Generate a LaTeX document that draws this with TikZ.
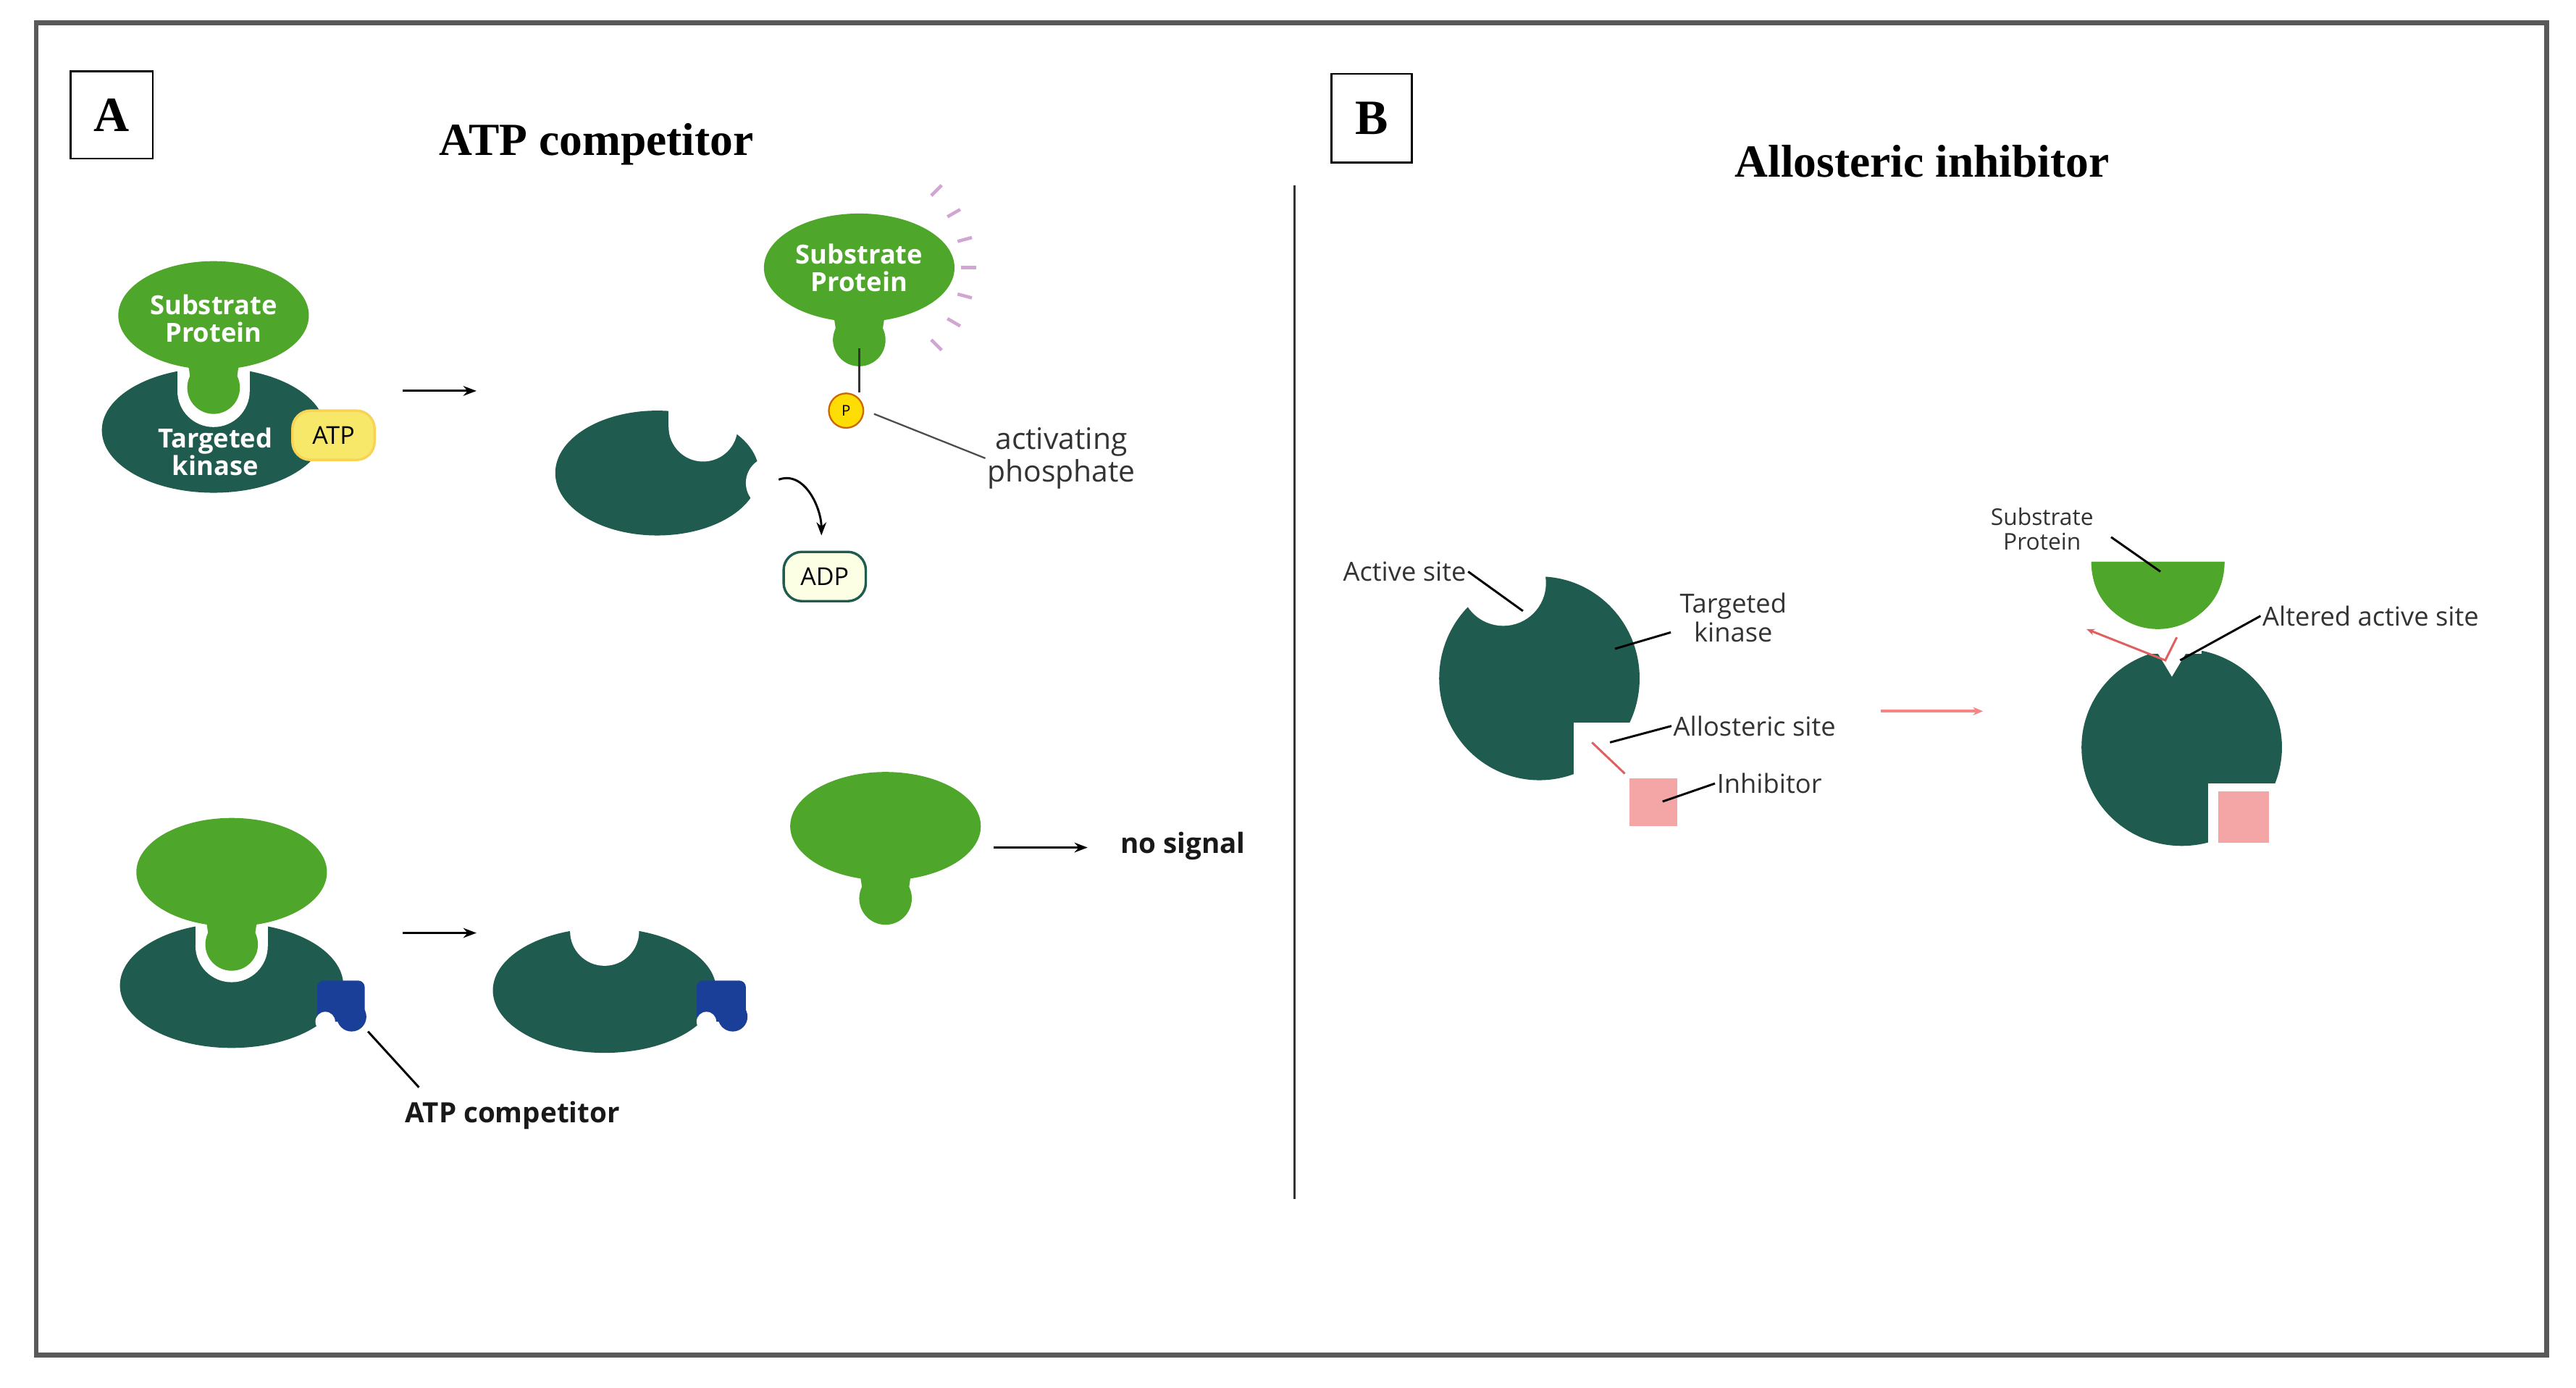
\documentclass[tikz,border=0pt]{standalone}
\usepackage{fontspec}
\setmainfont{Liberation Serif}
\newfontfamily\lab{Open Sans}
\usetikzlibrary{arrows.meta}
\definecolor{kin}{HTML}{1F5C4F}
\definecolor{sub}{HTML}{4EA72A}
\definecolor{pinkc}{HTML}{F4A6A6}
\definecolor{redl}{HTML}{E06060}
\definecolor{atpc}{HTML}{F7E86A}
\definecolor{blu}{HTML}{1A3F99}
\tikzset{
 title/.style={font=\fontsize{28}{30}\selectfont\bfseries},
 lbl/.style={font=\lab\fontsize{16}{18}\selectfont, text=black!80, align=center, inner sep=1pt},
 wlbl/.style={font=\lab\fontsize{16}{17}\selectfont\bfseries, text=white, align=center, inner sep=0pt},
 blbl/.style={font=\lab\fontsize{17}{19}\selectfont\bfseries, text=black!90, inner sep=1pt},
 lead/.style={black, line width=1.3pt},
 arr/.style={black, line width=1.3pt, -{Stealth[length=8pt,width=6pt]}},
 pill/.style={rounded corners=11pt, minimum width=50pt, minimum height=30pt, line width=1.5pt, font=\lab\fontsize{15}{16}\selectfont, inner sep=0pt},
}
\newcommand\substr[2]{% center x,y
 \fill[sub] (#1,#2) ellipse [x radius=58, y radius=33];
 \fill[sub] (#1-14,#2) rectangle (#1+14,#2+45);
 \fill[sub] (#1,#2+44) circle (16);
 \fill[sub] (#1-30,#2+18) .. controls (#1-16,#2+24) .. (#1-14,#2+40) -- (#1+14,#2+40) .. controls (#1+16,#2+24) .. (#1+30,#2+18) -- cycle;}
\begin{document}
\begin{tikzpicture}[x=1pt,y=-1pt]
\useasboundingbox (0,0) rectangle (1568,845);
\fill[white] (0,0) rectangle (1568,845);
\draw[gray!70!black, line width=3pt] (22,14) rectangle (1550,825);
% headers
\node[draw, line width=1.2pt, minimum width=50pt, minimum height=53pt, title, font=\fontsize{30}{30}\selectfont\bfseries] (boxA) at (68,70) {A};
\node[title] (tA) at (363,88) {ATP competitor};
\node[draw, line width=1.2pt, minimum width=49pt, minimum height=54pt, font=\fontsize{30}{30}\selectfont\bfseries] (boxB) at (835,72) {B};
\node[title] (tB) at (1170,98) {Allosteric inhibitor};
\coordinate (d1) at (788,113); \coordinate (d2) at (788,730);
\draw[black!80, line width=1pt] (d1) -- (d2);
% ---- A top: complex
\fill[kin] (130,262) ellipse [x radius=68, y radius=38];
\fill[white] (130,238) circle (22);
\fill[white] (108,200) rectangle (152,238);
\substr{130}{192}
\node[wlbl] (sp1) at (130,194) {Substrate\\Protein};
\node[wlbl] (tk1) at (131,275) {Targeted\\kinase};
\node[pill, draw=atpc!80!orange, fill=atpc] (atp) at (203,265) {ATP};
\coordinate (a1s) at (245,238); \coordinate (a1e) at (290,238);
\draw[arr] (a1s) -- (a1e);
% free kinase
\fill[kin] (400,288) ellipse [x radius=62, y radius=38];
\fill[white] (428,260) circle (21);
\fill[white] (407,230) rectangle (449,260);
\fill[white] (470,294) circle (16);
\coordinate (c1) at (474,292); \coordinate (c2) at (500,326);
\draw[arr] (c1) to[out=20, in=90] (c2);
\node[pill, draw=kin, fill=green!8!yellow!10] (adp) at (502,351) {ADP};
% phosphorylated substrate
\substr{523}{163}
\node[wlbl] (sp2) at (523,163) {Substrate\\Protein};
\foreach \a in {-45,-30,...,45} \draw[violet!35, line width=2pt] (523,163) ++(\a:62) -- ++(\a:9);
\node[circle, draw=orange!80!black, fill=yellow!80!orange, minimum size=21pt, inner sep=0pt, line width=1pt, font=\lab\fontsize{9}{9}\selectfont] (P) at (515,250) {P};
\coordinate (ps) at (523,212);
\draw[black!80, line width=1pt] (ps) -- (523,239);
\node[lbl, font=\lab\fontsize{18}{20}\selectfont] (act) at (646,279) {activating\\phosphate};
\draw[black!70, line width=1pt] (P.east) ++(6,2) -- (act.west);
% ---- A bottom
\fill[kin] (141,600) ellipse [x radius=68, y radius=38];
\fill[white] (141,576) circle (22);
\fill[white] (119,540) rectangle (163,576);
\substr{141}{531}
\fill[blu, rounded corners=4pt] (193,597) rectangle (222,622);
\fill[blu] (214,619) circle (9);
\fill[white] (198,622) circle (6);
\coordinate (a2s) at (245,568); \coordinate (a2e) at (290,568);
\draw[arr] (a2s) -- (a2e);
\fill[kin] (368,603) ellipse [x radius=68, y radius=38];
\fill[white] (368,567) circle (21);
\fill[white] (347,540) rectangle (389,567);
\fill[blu, rounded corners=4pt] (424,597) rectangle (454,622);
\fill[blu] (446,619) circle (9);
\fill[white] (430,622) circle (6);
\substr{539}{503}
\coordinate (a3s) at (605,516); \coordinate (a3e) at (662,516);
\draw[arr] (a3s) -- (a3e);
\node[blbl] (nosig) at (720,515) {no signal};
\node[blbl] (atpcomp) at (312,679) {ATP competitor};
\coordinate (bl) at (224,628);
\draw[lead] (bl) -- (255,662);
% ---- B left kinase
\fill[kin] (937,413) ellipse [x radius=61, y radius=62];
\fill[white] (915,355) circle (26);
\fill[white] (958,440) rectangle (1000,478);
\fill[white] (870,340) rectangle (930,355);
\node[lbl] (as) at (855,348) {Active site};
\coordinate (asp) at (927,372);
\draw[lead] (as.east) -- (asp);
\node[lbl] (tk2) at (1055,376) {Targeted\\kinase};
\coordinate (tkp) at (983,395);
\draw[lead] (1017,385) -- (tkp);
\node[lbl] (als) at (1068,442) {Allosteric site};
\coordinate (alp) at (980,452);
\draw[lead] (als.west) -- (alp);
\coordinate (r1) at (969,452); \coordinate (r2) at (989,471);
\draw[redl, line width=1.3pt] (r1) -- (r2);
\fill[pinkc] (992,474) rectangle (1021,503);
\node[lbl] (inh) at (1077,477) {Inhibitor};
\coordinate (inp) at (1012,488);
\draw[lead] (inh.west) -- (inp);
\coordinate (pa1) at (1145,433); \coordinate (pa2) at (1207,433);
\draw[pinkc!80!red, line width=1.6pt, -{Stealth[length=6pt,width=5pt]}] (pa1) -- (pa2);
% ---- B right
\fill[kin] (1328,455) ellipse [x radius=61, y radius=60];
\fill[white] (1310,392) -- (1322,412) -- (1334,392) -- cycle;
\fill[white] (1305,392) rectangle (1340,398);
\fill[white] (1344,477) rectangle (1392,518);
\fill[pinkc] (1350,482) rectangle (1381,513);
\fill[sub] (1273,342) -- (1354,342) arc[start angle=0, end angle=180, x radius=40.5, y radius=41, delta angle=0] -- cycle;
\fill[sub] (1273,342) -- (1354,342) .. controls (1354,395) and (1273,395) .. (1273,342);
\node[lbl, font=\lab\fontsize{14}{15}\selectfont] (sp3) at (1243,322) {Substrate\\Protein};
\coordinate (spp) at (1315,348);
\draw[lead] (1285,327) -- (spp);
\node[lbl] (aas) at (1443,375) {Altered active site};
\coordinate (aap) at (1327,402);
\draw[lead] (aas.west) -- (aap);
\coordinate (rr1) at (1325,388); \coordinate (rr2) at (1318,402); \coordinate (rr3) at (1270,383);
\draw[redl, line width=1.3pt, -{Stealth[length=5pt,width=4pt]}] (rr1) -- (rr2) -- (rr3);
\end{tikzpicture}
\end{document}
